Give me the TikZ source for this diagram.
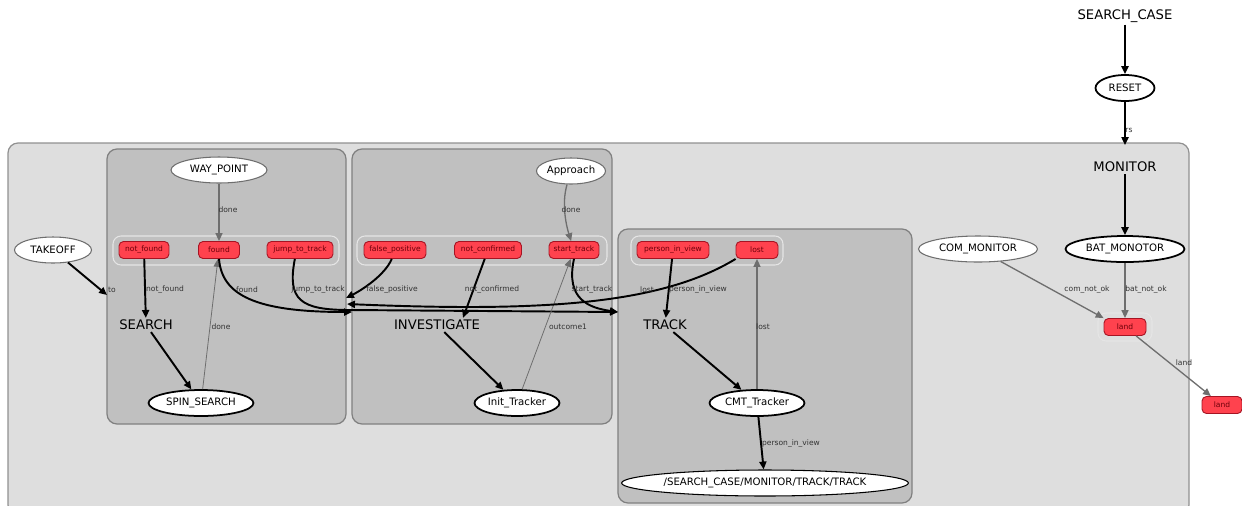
\documentclass[tikz,border=0pt]{standalone}
\usepackage{fontspec}
\setmainfont{DejaVu Sans}
\usetikzlibrary{arrows.meta,shapes.geometric}

\definecolor{outerfill}{RGB}{222,222,222}
\definecolor{outerline}{RGB}{145,145,145}
\definecolor{innerfill}{RGB}{192,192,192}
\definecolor{innerline}{RGB}{128,128,128}
\definecolor{boxfill}{RGB}{255,66,78}
\definecolor{boxline}{RGB}{165,20,35}
\definecolor{boxtext}{RGB}{110,0,10}
\definecolor{weakline}{RGB}{110,110,110}

\newcommand\clusterfont{\fontsize{7.5}{9}\selectfont}
\newcommand\statefont{\fontsize{5.8}{7}\selectfont}
\newcommand\labelfont{\fontsize{4.3}{5}\selectfont}

\begin{document}
\begin{tikzpicture}[x=0.02cm,y=-0.02cm,
  cluster/.style={rounded corners=0.2cm,line width=0.7pt},
  holder/.style={rounded corners=0.16cm,draw=white!90!black,line width=0.6pt},
  smstate/.style={ellipse,draw=weakline,fill=white,line width=0.6pt,inner sep=0pt,minimum height=0.52cm,font=\statefont},
  busy/.style={smstate,draw=black,line width=1pt},
  outcome/.style={rectangle,rounded corners=0.09cm,draw=boxline,fill=boxfill,text=boxtext,font=\labelfont,minimum height=0.34cm,inner sep=0pt,line width=0.5pt},
  heading/.style={font=\clusterfont,inner sep=1pt},
  lbl/.style={font=\labelfont,text=black!80,inner sep=0pt},
  go/.style={-{Triangle[length=4.5pt,width=4pt]},line width=1.1pt},
  weak/.style={-{Triangle[length=4.5pt,width=4pt]},draw=weakline,line width=0.75pt}]
  \useasboundingbox (0,0) rectangle (1242,505);
  \clip (0,0) rectangle (1242,505);

  \draw[cluster,fill=outerfill,draw=outerline] (8,143) rectangle (1189,515);
  \draw[cluster,fill=innerfill,draw=innerline] (107,149) rectangle (346,424);
  \draw[cluster,fill=innerfill,draw=innerline] (352,149) rectangle (612,424);
  \draw[cluster,fill=innerfill,draw=innerline] (618,229) rectangle (912,503);
  \draw[holder] (113,236) rectangle (339,265);
  \draw[holder] (357,236) rectangle (607,265);
  \draw[holder] (631,236) rectangle (783,265);
  \draw[holder] (1098,313) rectangle (1152,341);

  \node[heading] (sc)     at (1125,16)  {SEARCH\_CASE};
  \node[heading] (mon)    at (1125,167) {MONITOR};
  \node[heading] (search) at (146,325)  {SEARCH};
  \node[heading] (inv)    at (437,325)  {INVESTIGATE};
  \node[heading] (trk)    at (665,325)  {TRACK};

  \node[busy,minimum width=1.18cm]    (reset)      at (1125,88)  {RESET};
  \node[smstate,minimum width=1.92cm] (waypoint)   at (219,170)  {WAY\_POINT};
  \node[smstate,minimum width=1.38cm] (approach)   at (571,171)  {Approach};
  \node[smstate,minimum width=1.54cm] (takeoff)    at (53,250)   {TAKEOFF};
  \node[busy,minimum width=2.1cm]     (spin)       at (201,403)  {SPIN\_SEARCH};
  \node[busy,minimum width=1.7cm]     (init)       at (517,403)  {Init\_Tracker};
  \node[busy,minimum width=1.9cm]     (cmt)        at (757,403)  {CMT\_Tracker};
  \node[smstate,draw=black,minimum width=5.62cm] (tracktrack) at (765,483) {/SEARCH\_CASE/MONITOR/TRACK/TRACK};
  \node[smstate,minimum width=2.38cm] (common)     at (978,249)  {COM\_MONITOR};
  \node[busy,minimum width=2.38cm]    (batmon)     at (1125,249) {BAT\_MONOTOR};

  \node[outcome,minimum width=1cm]    (nf)      at (144,250)  {not\_found};
  \node[outcome,minimum width=0.82cm] (fd)      at (219,250)  {found};
  \node[outcome,minimum width=1.32cm] (jt)      at (300,250)  {jump\_to\_track};
  \node[outcome,minimum width=1.24cm] (fp)      at (395,250)  {false\_positive};
  \node[outcome,minimum width=1.34cm] (nc)      at (488,250)  {not\_confirmed};
  \node[outcome,minimum width=1cm]    (st)      at (574,250)  {start\_track};
  \node[outcome,minimum width=1.44cm] (piv)     at (673,250)  {person\_in\_view};
  \node[outcome,minimum width=0.84cm] (lost)    at (757,250)  {lost};
  \node[outcome,minimum width=0.84cm] (land)    at (1125,327) {land};
  \node[outcome,minimum width=0.8cm]  (landout) at (1222,405) {land};

  \coordinate (m_in)   at (1125,145);
  \coordinate (s_in)   at (107,295);
  \coordinate (i_fd)   at (352,312);
  \coordinate (i_fp)   at (346,298);
  \coordinate (i_lost) at (347,304);
  \coordinate (t_in)   at (618,312);

  \draw[go] (sc) -- (reset);
  \draw[go] (reset) -- (m_in);
  \draw[go] (mon) -- (batmon);
  \draw[weak] (common) -- (land.north west);
  \draw[weak] (batmon) -- (land);
  \draw[weak] (land) -- (landout);
  \draw[go] (takeoff) -- (s_in);
  \draw[go] (nf) -- (search);
  \draw[weak] (waypoint) -- (fd);
  \draw[weak,line width=0.45pt] (spin) -- (fd);
  \draw[go] (search) -- (spin);
  \draw[go] (fd.south) .. controls (222,295) and (255,312) .. (i_fd);
  \draw[go] (jt.240) .. controls (287,300) and (300,310) .. (350,310) -- (t_in);
  \draw[go] (fp.250) .. controls (385,275) and (362,290) .. (i_fp);
  \draw[go] (nc) -- ([xshift=0.52cm]inv.north);
  \draw[go] (inv) -- (init);
  \draw[weak] (approach) .. controls (561,205) and (567,228) .. (st);
  \draw[weak,line width=0.45pt] (init) -- (st);
  \draw[go] (st.south) .. controls (565,300) and (590,308) .. (t_in);
  \draw[go] (lost.south west) .. controls (660,305) and (540,312) .. (i_lost);
  \draw[go] (piv) -- (trk);
  \draw[go] (trk) -- (cmt);
  \draw[weak] (cmt) -- (lost);
  \draw[go] (cmt) -- (tracktrack);

  \node[lbl] (l_rs)   at (1129,130) {rs};
  \node[lbl] (l_to)   at (112,290)  {to};
  \node[lbl] (l_nf)   at (165,290)  {not\_found};
  \node[lbl] (l_wd)   at (228,210)  {done};
  \node[lbl] (l_sd)   at (221,327)  {done};
  \node[lbl] (l_fd)   at (247,290)  {found};
  \node[lbl] (l_jt)   at (318,290)  {jump\_to\_track};
  \node[lbl] (l_fp)   at (392,290)  {false\_positive};
  \node[lbl] (l_nc)   at (492,290)  {not\_confirmed};
  \node[lbl] (l_ad)   at (571,210)  {done};
  \node[lbl] (l_st)   at (592,290)  {start\_track};
  \node[lbl] (l_oc)   at (568,327)  {outcome1};
  \node[lbl] (l_lo)   at (647,290)  {lost};
  \node[lbl] (l_pv)   at (698,290)  {person\_in\_view};
  \node[lbl] (l_cl)   at (763,327)  {lost};
  \node[lbl] (l_cp)   at (791,444)  {person\_in\_view};
  \node[lbl] (l_com)  at (1087,290) {com\_not\_ok};
  \node[lbl] (l_bat)  at (1146,290) {bat\_not\_ok};
  \node[lbl] (l_land) at (1184,363) {land};
\end{tikzpicture}
\end{document}
